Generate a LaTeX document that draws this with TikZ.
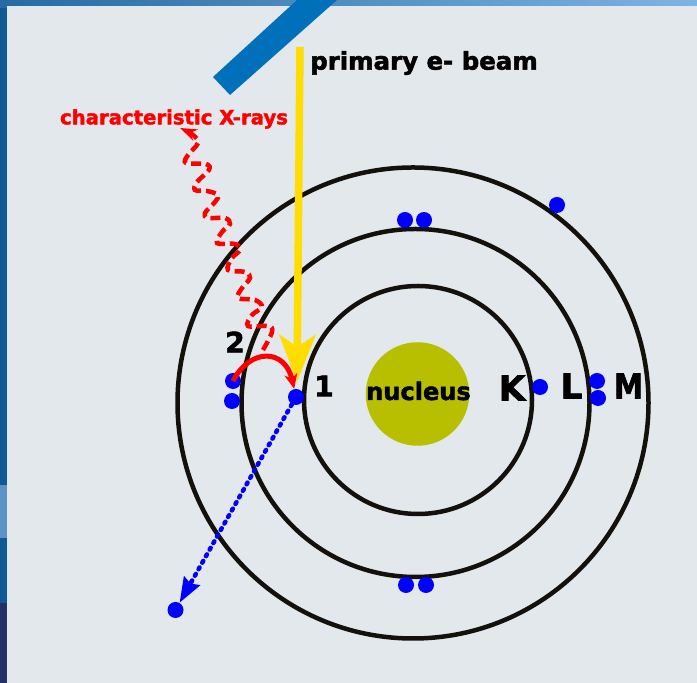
\documentclass[tikz,border=0pt]{standalone}
\usepackage{fontspec}
\setmainfont[BoldFont={DejaVu Sans Bold},BoldFeatures={FakeBold=2}]{DejaVu Sans}
\usetikzlibrary{arrows.meta}
\definecolor{panelgrey}{HTML}{E2E8EB}
\definecolor{barblue}{HTML}{0070BB}
\definecolor{orbitblack}{HTML}{14100A}
\definecolor{nucleusolive}{HTML}{B8BF00}
\definecolor{beamyellow}{HTML}{FFDD00}
\definecolor{edgeblue}{HTML}{0F5A94}
\definecolor{edgelight}{HTML}{5B93C5}
\definecolor{edgenavy}{HTML}{24306A}
\definecolor{edgesky}{HTML}{7DB4E2}
\tikzset{
    orbit/.style={draw=orbitblack, line width=0.09cm},
    electron/.style={circle, fill=blue, minimum size=0.32cm, inner sep=0pt},
    shell/.style={font=\bfseries\fontsize{19.5}{20}\selectfont},
    tag/.style={font=\bfseries\fontsize{16}{16}\selectfont},
}
\begin{document}
\begin{tikzpicture}
    \useasboundingbox (0, 0) rectangle (13.94, 13.66);
    % backdrop and panel
    \fill [edgeblue] (0, 0) rectangle (13.94, 13.66);
    \fill [edgelight] (0, 2.9) rectangle (0.14, 3.95);
    \fill [edgenavy] (0, 0) rectangle (0.14, 1.6);
    \shade [left color=edgeblue!70!edgelight, right color=edgesky] (0, 13.5) rectangle (13.94, 13.66);
    \fill [panelgrey] (0.14, 0) rectangle (13.94, 13.54);
    % electron gun
    \fill [barblue] (4.26, 12.12) -- (4.6, 11.76) -- (6.74, 13.66) -- (5.94, 13.66) -- cycle;
    % shells
    \draw [orbit] (8.36, 5.66) circle (2.28);
    \draw [orbit] (8.31, 5.6) circle (3.48);
    \draw [orbit] (8.26, 5.6) circle (4.71);
    \draw
        (8.35, 5.78) node (nucleus) [circle, fill=nucleusolive, minimum size=2.07cm, inner sep=0pt] {}
        (8.37, 5.84) node (nucleuslabel) [font=\bfseries\fontsize{13.7}{14}\selectfont] {nucleus}
        (8.48, 12.4) node (beamlabel) [font=\bfseries\fontsize{13.9}{14}\selectfont] {primary e- beam}
        (3.48, 11.28) node (xraylabel) [text=red, font=\bfseries\fontsize{11.2}{12}\selectfont] {characteristic X-rays}
        (10.24, 5.9) node (K) [shell] {K}
        (11.43, 5.94) node (L) [shell] {L}
        (12.57, 5.94) node (M) [shell, transform shape, xscale=0.85] {M}
        (4.7, 6.82) node (two) [tag] {2}
        (6.48, 5.94) node (one) [tag] {1}

        (8.1, 9.26) node (etopa) [electron] {}
        (8.48, 9.26) node (etopb) [electron] {}
        (11.14, 9.56) node (etopc) [electron] {}
        (10.8, 5.92) node (eK) [electron] {}
        (11.94, 6.04) node (eLa) [electron] {}
        (11.96, 5.7) node (eLb) [electron] {}
        (4.66, 6.04) node (eleft) [electron] {}
        (4.64, 5.64) node (eleftb) [electron] {}
        (5.92, 5.72) node (ehit) [electron] {}
        (8.12, 1.96) node (ebota) [electron] {}
        (8.52, 1.96) node (ebotb) [electron] {}
        (3.51, 1.46) node (eout) [electron] {}
        (6, 12.72) coordinate (beamstart)
        (5.94, 6.02) coordinate (beamend)
        ;
    % primary beam
    \draw [beamyellow, line width=0.15cm, -{Stealth[length=0.94cm, width=0.72cm, inset=0.24cm]}] (beamstart) -- (beamend);
    % ejected electron
    \draw [blue, line width=0.09cm, line cap=round, dash pattern=on 0.04cm off 0.11cm, -{Stealth[length=0.5cm, width=0.36cm, inset=0.06cm]}] (ehit) -- (eout);
    % relaxation from L to K
    \draw [red, line width=0.1cm, -{Stealth[length=0.3cm, width=0.26cm]}] (eleft.center) .. controls (5, 6.7) and (5.7, 6.7) .. (ehit);
    % emitted X-ray
    \draw [red, line width=0.09cm, dash pattern=on 0.2cm off 0.1cm, -{Stealth[length=0.34cm, width=0.24cm]}]
        plot [smooth, tension=0.6] coordinates {
        (5.26, 6.66) (5.44, 7.02) (5.36, 7.14) (4.96, 7.14) (5.04, 7.36) (5.24, 7.52) (5.1, 7.66) (4.76, 7.7) (4.84, 7.9)
        (5, 8.1) (4.9, 8.22) (4.56, 8.26) (4.64, 8.5) (4.8, 8.66) (4.7, 8.78) (4.34, 8.8) (4.44, 9.02)
        (4.6, 9.18) (4.5, 9.3) (4.16, 9.3) (4.1, 9.4) (4.3, 9.62) (4.36, 9.76) (4.14, 9.84) (3.9, 9.86)
        (3.94, 10.02) (4.18, 10.26) (4.12, 10.38) (3.72, 10.4) (3.76, 10.56) (3.96, 10.8) (3.86, 10.96) (3.6, 11.1)};
\end{tikzpicture}
\end{document}
